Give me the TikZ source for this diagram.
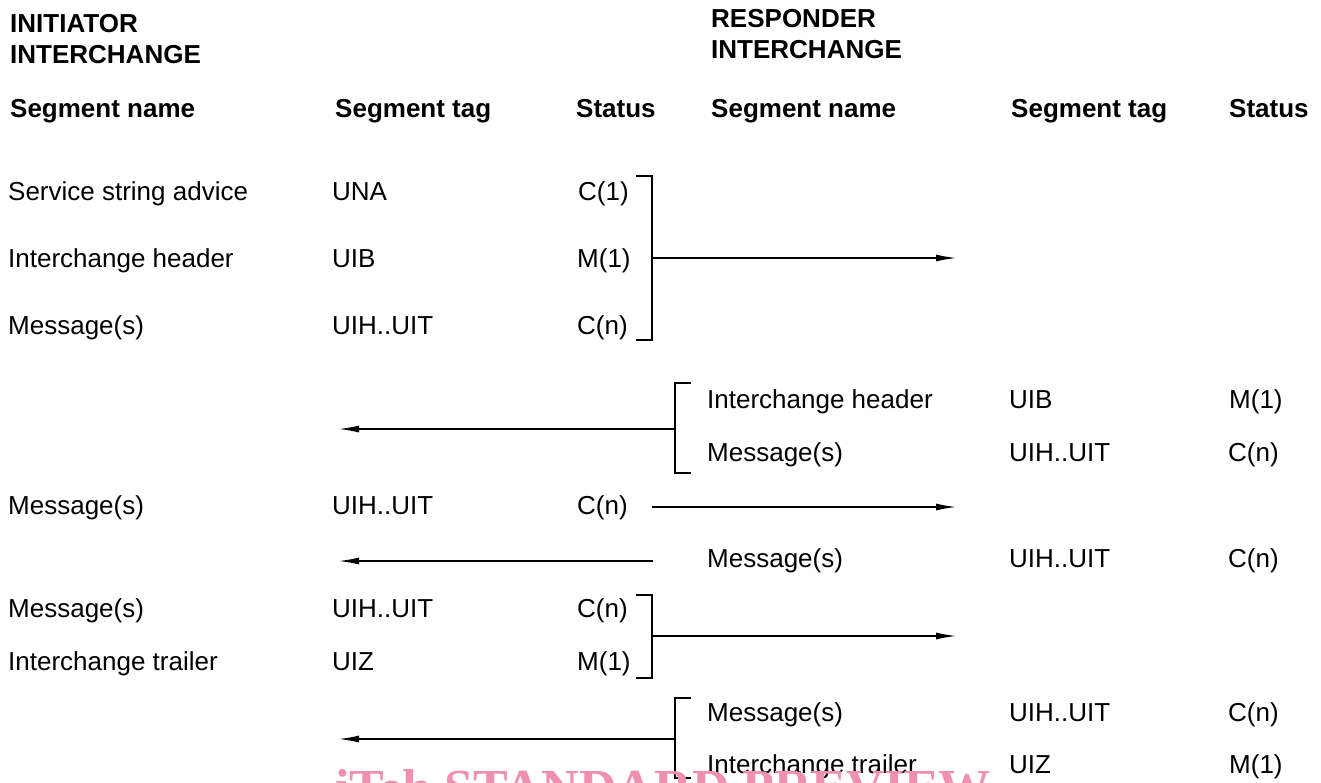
\documentclass[tikz,border=0pt]{standalone}
\usepackage{fontspec}
\setmainfont{Liberation Sans}
\newfontfamily\wmfont{Liberation Serif}
\usetikzlibrary{arrows.meta}
\definecolor{wmpink}{RGB}{238,144,174}
\begin{document}
\begin{tikzpicture}[x=1pt,y=-1pt,
  txt/.style={anchor=base west,inner sep=0pt,font=\fontsize{26}{30}\selectfont},
  hdr/.style={anchor=base west,inner sep=0pt,font=\fontsize{26}{30}\selectfont\bfseries},
  brk/.style={line width=1.8pt},
  arr/.style={line width=1.8pt,-{Latex[length=21pt,width=7pt]}}]
\useasboundingbox (0,0) rectangle (1321,782);
\clip (0,0) rectangle (1321,782);
% headers
\node[hdr] (ih1) at (10,32) {INITIATOR};
\node[hdr] (ih2) at (10,63) {INTERCHANGE};
\node[hdr] (rh1) at (711,27) {RESPONDER};
\node[hdr] (rh2) at (711,58) {INTERCHANGE};
\node[hdr] (h1) at (10,117) {Segment name};
\node[hdr] (h2) at (335,117) {Segment tag};
\node[hdr] (h3) at (576,117) {Status};
\node[hdr] (h4) at (711,117) {Segment name};
\node[hdr] (h5) at (1011,117) {Segment tag};
\node[hdr] (h6) at (1229,117) {Status};
% group 1 (initiator)
\node[txt] (a1) at (8,200) {Service string advice};
\node[txt] (a2) at (332,200) {UNA};
\node[txt] (a3) at (578,200) {C(1)};
\node[txt] (b1) at (8,267) {Interchange header};
\node[txt] (b2) at (332,267) {UIB};
\node[txt] (b3) at (577,267) {M(1)};
\node[txt] (c1) at (8,334) {Message(s)};
\node[txt] (c2) at (332,334) {UIH..UIT};
\node[txt] (c3) at (577,334) {C(n)};
% group 2 (responder)
\node[txt] (d1) at (707,408) {Interchange header};
\node[txt] (d2) at (1009,408) {UIB};
\node[txt] (d3) at (1229,408) {M(1)};
\node[txt] (e1) at (707,461) {Message(s)};
\node[txt] (e2) at (1009,461) {UIH..UIT};
\node[txt] (e3) at (1228,461) {C(n)};
% row 6
\node[txt] (f1) at (8,514) {Message(s)};
\node[txt] (f2) at (332,514) {UIH..UIT};
\node[txt] (f3) at (577,514) {C(n)};
% row 7
\node[txt] (g1) at (707,567) {Message(s)};
\node[txt] (g2) at (1009,567) {UIH..UIT};
\node[txt] (g3) at (1228,567) {C(n)};
% group 5
\node[txt] (k1) at (8,617) {Message(s)};
\node[txt] (k2) at (332,617) {UIH..UIT};
\node[txt] (k3) at (577,617) {C(n)};
\node[txt] (l1) at (8,670) {Interchange trailer};
\node[txt] (l2) at (332,670) {UIZ};
\node[txt] (l3) at (577,670) {M(1)};
% group 6
\node[txt] (m1) at (707,721) {Message(s)};
\node[txt] (m2) at (1009,721) {UIH..UIT};
\node[txt] (m3) at (1228,721) {C(n)};
\node[txt] (n1) at (707,773) {Interchange trailer};
\node[txt] (n2) at (1009,773) {UIZ};
\node[txt] (n3) at (1229,773) {M(1)};
% brackets and arrows
\coordinate (p1) at (652,258); \coordinate (q1) at (957,258);
\draw[brk] (636,176) -- (652,176) -- (652,340) -- (636,340);
\draw[arr] (p1) -- (q1);
\coordinate (p2) at (675,429); \coordinate (q2) at (338,429);
\draw[brk] (691,383) -- (675,383) -- (675,473) -- (691,473);
\draw[arr] (p2) -- (q2);
\coordinate (p3) at (652,507); \coordinate (q3) at (957,507);
\draw[arr] (p3) -- (q3);
\coordinate (p4) at (653,561); \coordinate (q4) at (338,561);
\draw[arr] (p4) -- (q4);
\coordinate (p5) at (652,636); \coordinate (q5) at (957,636);
\draw[brk] (636,595) -- (652,595) -- (652,678) -- (636,678);
\draw[arr] (p5) -- (q5);
\coordinate (p6) at (675,739); \coordinate (q6) at (338,739);
\draw[brk] (691,698) -- (675,698) -- (675,778) -- (691,778);
\draw[arr] (p6) -- (q6);
% watermark
\node[anchor=base west,inner sep=0pt,text=wmpink,font=\wmfont\bfseries\fontsize{52}{60}\selectfont] (wm) at (335,805) {iTeh STANDARD PREVIEW};
\end{tikzpicture}
\end{document}
